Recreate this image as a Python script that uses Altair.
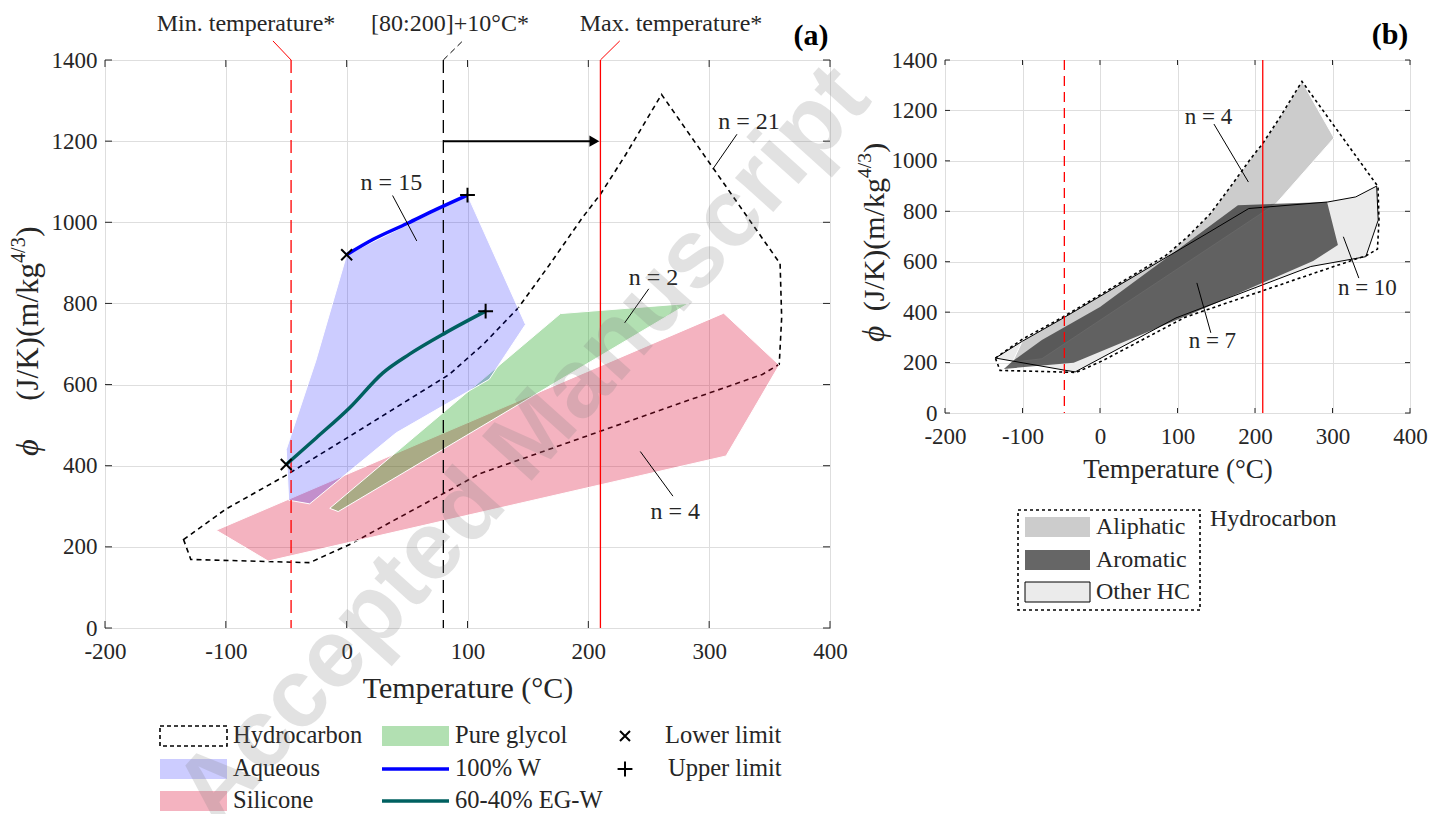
import altair as alt
import pandas as pd

FONT = "Liberation Serif"
INK = "#262626"
GRID = "#dedede"

x_ticks = [-200, -100, 0, 100, 200, 300, 400]
y_ticks = [0, 200, 400, 600, 800, 1000, 1200, 1400]

T_min, T_mid, T_max = -46, 80, 210

# ---------------- panel (a) data ----------------
hc_T = [-135, -100, -51, 0, 85, 113, 142, 168, 195, 210, 231, 260.6, 358.7, 360, 358, 344, 250, 110, 2.5, -30.6, -129]
hc_P = [218, 293, 375, 468, 625, 699, 789, 896, 1011, 1069, 1167, 1315, 898, 765, 650, 625, 527, 380, 206, 161, 169]

aq_T = [0, 100, 148, 118, 41, -30.6, -48, -50, -25.6]
aq_P = [920, 1067, 748, 613, 481, 306, 315, 440, 658]

si_T = [-108, 312, 358, 314, -65]
si_P = [241, 776, 648, 424, 165]

gl_T = [-14, 177, 283, -7]
gl_P = [295, 775, 800, 287]

w100_T = [0, 22, 50, 75, 100]
w100_P = [920, 958, 997, 1033, 1067]

eg_T = [-50, -25, 2.5, 30, 52, 82, 115]
eg_P = [403, 469, 543, 629, 675, 728, 781]

lower_T, lower_P = [0, -50], [920, 403]
upper_T, upper_P = [100, 115], [1067, 781]

# ---------------- panel (b) data ----------------
ali_T = [-113, -75, 227, 302, 260.6, 231, 210, 195, 168, 142, 113, 85, -51, -100]
ali_P = [201, 215, 830, 1091, 1315, 1167, 1069, 1011, 896, 789, 699, 625, 375, 287]

aro_T = [-124, -113, -75, 0, 178, 293, 307, 275, 119, -34]
aro_P = [175, 205, 290, 420, 824, 837, 666, 603, 395, 199]

oth_T = [-135, -100, -50, 138, 192, 294, 330, 357, 359, 343, 272, 98, -32, -46]
oth_P = [218, 285, 372, 712, 811, 837, 857, 900, 765, 620, 581, 377, 163, 170]

legend_a_col1 = ["Hydrocarbon", "Aqueous", "Silicone"]
legend_a_col2 = ["Pure glycol", "100% W", "60-40% EG-W"]
legend_a_col3 = ["Lower limit", "Upper limit"]
legend_b = ["Aliphatic", "Aromatic", "Other HC"]

# ---------------- helpers ----------------
WA, HA = 725, 568
WB, HB = 465, 353
ONE = pd.DataFrame({"k": [0]})
XSHAPE = "M-1,-1L1,1M-1,1L1,-1"
PSHAPE = "M-1,0L1,0M0,-1L0,1"


def make_xy(label_size, title_size, title_pad):
    def X():
        return alt.X("T:Q", title="Temperature (°C)",
                     scale=alt.Scale(domain=[-200, 400], nice=False, zero=False),
                     axis=alt.Axis(values=x_ticks, labelExpr="'' + datum.value", ticks=False, domain=False,
                                   grid=True, gridColor=GRID, gridWidth=1, labelFont=FONT, labelFlush=False,
                                   labelFontSize=label_size, labelColor=INK, labelPadding=12,
                                   titleFont=FONT, titleFontSize=title_size, titleFontWeight="normal",
                                   titleColor=INK, titlePadding=title_pad))

    def Y():
        return alt.Y("P:Q", title=None,
                     scale=alt.Scale(domain=[0, 1400], nice=False, zero=False),
                     axis=alt.Axis(values=y_ticks, labelExpr="'' + datum.value", ticks=False, domain=False,
                                   grid=True, gridColor=GRID, gridWidth=1, labelFont=FONT, labelFlush=False,
                                   labelFontSize=label_size, labelColor=INK, labelPadding=8))
    return X, Y


def poly(T, P, X, Y, **mk):
    df = pd.DataFrame({"T": T, "P": P, "o": list(range(len(T)))})
    return alt.Chart(df).mark_line(interpolate="linear-closed", **mk).encode(x=X(), y=Y(), order="o:Q")


def curve(T, P, X, Y, **mk):
    df = pd.DataFrame({"T": T, "P": P, "o": list(range(len(T)))})
    return alt.Chart(df).mark_line(interpolate="monotone", **mk).encode(x=X(), y=Y(), order="o:Q")


def vline(t, h, X, **mk):
    return alt.Chart(pd.DataFrame({"T": [t]})).mark_rule(**mk).encode(x=X(), y=alt.value(0), y2=alt.value(h))


def ticks_in(X, Y, w, h, L):
    xt = pd.DataFrame({"T": x_ticks})
    yt = pd.DataFrame({"P": y_ticks})
    st = dict(color=INK, strokeWidth=1)
    return [
        alt.Chart(xt).mark_rule(**st).encode(x=X(), y=alt.value(h), y2=alt.value(h - L)),
        alt.Chart(xt).mark_rule(**st).encode(x=X(), y=alt.value(0), y2=alt.value(L)),
        alt.Chart(yt).mark_rule(**st).encode(y=Y(), x=alt.value(0), x2=alt.value(L)),
        alt.Chart(yt).mark_rule(**st).encode(y=Y(), x=alt.value(w - L), x2=alt.value(w)),
    ]


def dtext(t, p, s, X, Y, **mk):
    return alt.Chart(pd.DataFrame({"T": [t], "P": [p]})).mark_text(text=s, **mk).encode(x=X(), y=Y())


def dseg(t1, p1, t2, p2, X, Y, **mk):
    df = pd.DataFrame({"T": [t1], "P": [p1], "T2": [t2], "P2": [p2]})
    return alt.Chart(df).mark_rule(**mk).encode(x=X(), y=Y(), x2="T2:Q", y2="P2:Q")


def ptext(x, y, s, **mk):
    return alt.Chart(ONE).mark_text(text=s, **mk).encode(x=alt.value(x), y=alt.value(y))


def prect(x1, x2, y1, y2, **mk):
    return alt.Chart(ONE).mark_rect(**mk).encode(x=alt.value(x1), x2=alt.value(x2), y=alt.value(y1), y2=alt.value(y2))


def prule(x1, x2, y1, y2, **mk):
    return alt.Chart(ONE).mark_rule(**mk).encode(x=alt.value(x1), x2=alt.value(x2), y=alt.value(y1), y2=alt.value(y2))


def ppoint(x, y, **mk):
    return alt.Chart(ONE).mark_point(**mk).encode(x=alt.value(x), y=alt.value(y))


def ytitle(xb, y_bottom, y_end, size):
    sup = size * 0.65
    return [
        ptext(xb, y_bottom, "ϕ", angle=270, align="left", baseline="alphabetic", font=FONT,
              fontStyle="italic", fontSize=size * 1.05, color=INK),
        ptext(xb, y_end, "(J/K)(m/kg", angle=270, align="right", baseline="alphabetic", font=FONT,
              fontSize=size, color=INK),
        ptext(xb - size * 0.42, y_end, "4/3", angle=270, align="left", baseline="alphabetic", font=FONT,
              fontSize=sup, color=INK),
        ptext(xb, y_end - sup * 1.3, ")", angle=270, align="left", baseline="alphabetic", font=FONT,
              fontSize=size, color=INK),
    ]


# ---------------- panel (a) ----------------
XA, YA = make_xy(23, 30, 10)
TXT = dict(font=FONT, fontSize=24, color=INK)

layers_a = [
    poly(hc_T, hc_P, XA, YA, stroke="black", strokeWidth=1.6, strokeDash=[5, 4], fillOpacity=0),
    poly(si_T, si_P, XA, YA, fill="#dc143c", fillOpacity=0.32, stroke="white", strokeWidth=1),
    poly(gl_T, gl_P, XA, YA, fill="#009900", fillOpacity=0.3, stroke="white", strokeWidth=1),
    poly(aq_T, aq_P, XA, YA, fill="#0000ff", fillOpacity=0.2, stroke="white", strokeWidth=1),
    vline(T_min, HA, XA, color="red", strokeWidth=1.3, strokeDash=[13, 7]),
    vline(T_mid, HA, XA, color="black", strokeWidth=1.3, strokeDash=[13, 7]),
    vline(T_max, HA, XA, color="red", strokeWidth=1.3),
    curve(w100_T, w100_P, XA, YA, color="#0000ff", strokeWidth=3.5),
    curve(eg_T, eg_P, XA, YA, color="#006060", strokeWidth=3.5),
    alt.Chart(pd.DataFrame({"T": lower_T, "P": lower_P})).mark_point(
        shape=XSHAPE, filled=False, stroke="black", strokeWidth=2, size=120, opacity=1).encode(x=XA(), y=YA()),
    alt.Chart(pd.DataFrame({"T": upper_T, "P": upper_P})).mark_point(
        shape=PSHAPE, filled=False, stroke="black", strokeWidth=2, size=220, opacity=1).encode(x=XA(), y=YA()),
    dseg(T_mid, 1200, 204, 1200, XA, YA, color="black", strokeWidth=2),
    alt.Chart(pd.DataFrame({"T": [205], "P": [1200]})).mark_point(
        shape="triangle-right", filled=True, color="black", size=130, opacity=1).encode(x=XA(), y=YA()),
    # annotations
    dtext(37, 1098, "n = 15", XA, YA, **TXT),
    dseg(38, 1066, 58, 954, XA, YA, color="black", strokeWidth=1),
    dtext(333, 1247, "n = 21", XA, YA, **TXT),
    dseg(323, 1217, 303, 1131, XA, YA, color="black", strokeWidth=1),
    dtext(254, 863, "n = 2", XA, YA, **TXT),
    dseg(250, 836, 230, 752, XA, YA, color="black", strokeWidth=1),
    dtext(272, 286, "n = 4", XA, YA, **TXT),
    dseg(270, 325, 243, 435, XA, YA, color="black", strokeWidth=1),
    # top labels
    dseg(T_min, 1400, T_min - 15, 1447, XA, YA, color="red", strokeWidth=1),
    dseg(T_mid, 1400, T_mid + 16, 1447, XA, YA, color="black", strokeWidth=1, strokeDash=[6, 4]),
    dseg(T_max, 1400, T_max + 16, 1447, XA, YA, color="red", strokeWidth=1),
    ptext(141, -36, "Min. temperature*", baseline="middle", **TXT),
    ptext(345, -36, "[80:200]+10°C*", baseline="middle", **TXT),
    ptext(566, -36, "Max. temperature*", baseline="middle", **TXT),
    ptext(706, -24, "(a)", baseline="middle", font=FONT, fontSize=30, fontWeight="bold", color="black"),
]
layers_a += ticks_in(XA, YA, WA, HA, 7)
layers_a += ytitle(-67, 396, 203, 31)

# legend (a)
rows_a = [676, 709, 741]
LT = dict(font=FONT, fontSize=24.5, color=INK, align="left", baseline="middle")
layers_a += [
    prect(55, 122, rows_a[0] - 10, rows_a[0] + 10, filled=False, stroke="black", strokeWidth=1.6, strokeDash=[4, 3]),
    prect(55, 122, rows_a[1] - 10, rows_a[1] + 10, fill="#0000ff", fillOpacity=0.2),
    prect(55, 122, rows_a[2] - 10, rows_a[2] + 10, fill="#dc143c", fillOpacity=0.32),
    prect(277, 344, rows_a[0] - 10, rows_a[0] + 10, fill="#009900", fillOpacity=0.3),
    prule(277, 344, rows_a[1], rows_a[1], color="#0000ff", strokeWidth=3.5),
    prule(277, 344, rows_a[2], rows_a[2], color="#006060", strokeWidth=3.5),
    ppoint(520, rows_a[0], shape=XSHAPE, filled=False, stroke="black", strokeWidth=2, size=100, opacity=1),
    ppoint(520, rows_a[1], shape=PSHAPE, filled=False, stroke="black", strokeWidth=2, size=220, opacity=1),
]
for i, s in enumerate(legend_a_col1):
    layers_a.append(ptext(128, rows_a[i], s, **LT))
for i, s in enumerate(legend_a_col2):
    layers_a.append(ptext(350, rows_a[i], s, **LT))
for i, s in enumerate(legend_a_col3):
    layers_a.append(ptext(560 + 3 * i, rows_a[i], s, **LT))

# watermark
layers_a.append(ptext(112, 770, "Accepted Manuscript", angle=312, align="left", baseline="alphabetic",
                      font="Liberation Sans", fontWeight="bold", fontSize=97, color="#7f7f7f", opacity=0.22))

panel_a = alt.layer(*layers_a).properties(width=WA, height=HA)

# ---------------- panel (b) ----------------
XB, YB = make_xy(23, 27, 8)
TXB = dict(font=FONT, fontSize=23, color=INK)
layers_b = [
    poly(oth_T, oth_P, XB, YB, fill="#ebebeb", fillOpacity=1, strokeOpacity=0),
    poly(ali_T, ali_P, XB, YB, fill="#cccccc", fillOpacity=1, stroke="white", strokeWidth=1),
    poly(aro_T, aro_P, XB, YB, fill="#333333", fillOpacity=0.75, strokeOpacity=0),
    poly(oth_T, oth_P, XB, YB, fillOpacity=0, stroke="black", strokeWidth=1),
    poly(hc_T, hc_P, XB, YB, fillOpacity=0, stroke="black", strokeWidth=1.6, strokeDash=[3, 3]),
    vline(T_min, HB, XB, color="red", strokeWidth=1.3, strokeDash=[10, 6]),
    vline(T_max, HB, XB, color="red", strokeWidth=1.3),
    dtext(140, 1172, "n = 4", XB, YB, **TXB),
    dseg(147, 1146, 191.5, 916, XB, YB, color="black", strokeWidth=1),
    dtext(345, 495, "n = 10", XB, YB, **TXB),
    dseg(334, 535, 314, 699, XB, YB, color="black", strokeWidth=1),
    dtext(145, 285, "n = 7", XB, YB, **TXB),
    dseg(143, 318, 125, 516, XB, YB, color="black", strokeWidth=1),
    ptext(445, -25, "(b)", baseline="middle", font=FONT, fontSize=30, fontWeight="bold", color="black"),
]
layers_b += ticks_in(XB, YB, WB, HB, 5)
layers_b += ytitle(-61, 282, 118, 30)

rows_b = [467, 500, 532]
LB = dict(font=FONT, fontSize=24, color=INK, align="left", baseline="middle")
layers_b += [
    prect(73, 255, 450, 550, filled=False, stroke="black", strokeWidth=1.6, strokeDash=[3, 3]),
    prect(80, 145, rows_b[0] - 10, rows_b[0] + 10, fill="#cccccc"),
    prect(80, 145, rows_b[1] - 10, rows_b[1] + 10, fill="#333333", fillOpacity=0.75),
    prect(80, 145, rows_b[2] - 10, rows_b[2] + 10, fill="#ebebeb", stroke="black", strokeWidth=1),
    ptext(265, 459, "Hydrocarbon", **LB),
]
for i, s in enumerate(legend_b):
    layers_b.append(ptext(151, rows_b[i], s, **LB))

panel_b = alt.layer(*layers_b).properties(width=WB, height=HB)

chart = alt.hconcat(panel_a, panel_b, spacing=115, bounds="flush").properties(
    padding={"left": 0, "top": 3, "right": 0, "bottom": 0}
).configure_view(stroke=INK, strokeWidth=1)

chart.save("out.html", embed_options={"renderer": "svg", "actions": False})
